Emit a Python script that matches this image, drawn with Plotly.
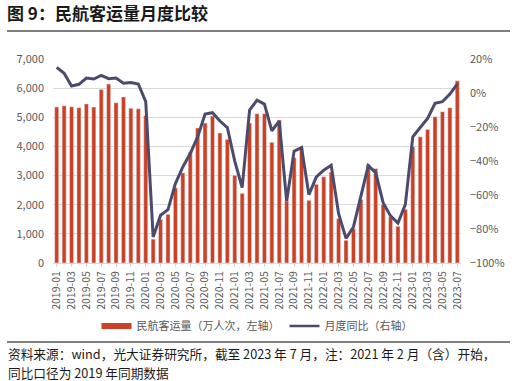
import plotly.graph_objects as go

months = [f"{y}-{m:02d}" for y in range(2019, 2024) for m in range(1, 13)][:55]

passengers = [5350, 5395, 5360, 5330, 5460, 5350, 5950, 6140, 5500, 5700, 5310, 5290,
              5060, 820, 1500, 1670, 2580, 3090, 3810, 4630, 4800, 5040, 4460, 4240,
              3010, 2390, 4800, 5120, 5120, 4140, 4910, 2120, 3610, 3960, 2150, 2700,
              2960, 3120, 1520, 780, 1180, 2180, 3390, 3240, 2000, 1580, 1260, 1840,
              3990, 4330, 4580, 5020, 5190, 5330, 6250]

yoy = [15.1, 11.6, 4.1, 5.1, 8.8, 8.2, 10.4, 8.4, 8.8, 5.7, 6.2, 5.3,
       -5.1, -84.7, -71.9, -68.6, -53.3, -43.5, -35.6, -25.8, -12.4, -11.6, -16.5, -20.3,
       -40.1, -55.6, -10.1, -4.2, -6.5, -22.2, -16.5, -63.7, -34.2, -32.1, -59.8, -49.4,
       -45.4, -42.5, -71.0, -85.5, -78.8, -61.1, -42.7, -46.8, -64.5, -72.3, -76.5, -65.5,
       -25.8, -20.3, -15.0, -6.1, -5.1, -0.6, 5.3]

tick_labels = months[::2]

bar_name = "民航客运量（万人次，左轴）"
line_name = "月度同比（右轴）"
title_text = "图 9：民航客运量月度比较"
note1 = "资料来源：wind，光大证券研究所，截至 2023 年 7 月，注：2021 年 2 月（含）开始，"
note2 = "同比口径为 2019 年同期数据"

FONT = "Noto Sans CJK SC, Noto Sans, sans-serif"
GRAY = "#595959"
BAR_C = "#cc4125"
LINE_C = "#4b4b6e"

fig = go.Figure()
fig.add_trace(go.Bar(x=months, y=passengers, name=bar_name, marker_color=BAR_C,
                     width=0.55, yaxis="y", showlegend=False))
fig.add_trace(go.Scatter(x=months, y=yoy, name=line_name, mode="lines",
                         line=dict(color=LINE_C, width=3), yaxis="y2", showlegend=False))
# legend entries
fig.add_trace(go.Scatter(x=[None], y=[None], name=bar_name, mode="lines",
                         line=dict(color=BAR_C, width=6), yaxis="y"))
fig.add_trace(go.Scatter(x=[None], y=[None], name=line_name, mode="lines",
                         line=dict(color=LINE_C, width=2.5), yaxis="y2"))

W, H = 516, 381
L, R, T, B = 53, 55, 59, 118
ph = H - T - B
pw = W - L - R

def py(px):
    return (H - B - px) / ph

def pxx(px):
    return (px - L) / pw

fig.update_layout(
    width=W, height=H,
    margin=dict(l=L, r=R, t=T, b=B, pad=0),
    paper_bgcolor="white", plot_bgcolor="white",
    font=dict(family=FONT, color=GRAY, size=11),
    title=dict(text=f"<b>{title_text}</b>", x=7 / W, xanchor="left", y=1 - 14 / H,
               yanchor="middle", font=dict(family=FONT, size=17, color="#1a1a1a")),
    xaxis=dict(type="category", categoryorder="array", categoryarray=months,
               tickmode="array", tickvals=tick_labels, ticktext=tick_labels,
               tickangle=-90, tickfont=dict(size=10.5, color=GRAY),
               showline=True, linecolor="#d9d9d9", ticks="outside", ticklen=3,
               tickcolor="#d9d9d9", showgrid=False, range=[-0.5, 54.5]),
    yaxis=dict(range=[0, 7000], dtick=1000, tickformat=",d", showgrid=True,
               gridcolor="#d9d9d9", gridwidth=1, zeroline=False,
               tickfont=dict(size=11, color=GRAY), ticks="", ticklabelstandoff=8),
    yaxis2=dict(range=[-100, 20], dtick=20, overlaying="y", side="right",
                showgrid=False, zeroline=False, ticksuffix="%",
                tickfont=dict(size=11, color=GRAY), ticklabelstandoff=8),
    showlegend=True,
    legend=dict(orientation="h", x=0.5, xanchor="center", y=py(326), yanchor="middle",
                font=dict(size=11, color=GRAY), bgcolor="rgba(0,0,0,0)",
                tracegroupgap=0),
    shapes=[
        dict(type="line", xref="paper", yref="paper", x0=pxx(7), x1=pxx(510),
             y0=py(31), y1=py(31), line=dict(color="#555555", width=1.5)),
        dict(type="line", xref="paper", yref="paper", x0=pxx(7), x1=pxx(510),
             y0=py(342), y1=py(342), line=dict(color="#555555", width=1.5)),
    ],
    annotations=[
        dict(text=note1, xref="paper", yref="paper", x=pxx(6), y=py(353),
             xanchor="left", yanchor="middle", showarrow=False,
             font=dict(family=FONT, size=12.7, color="#1a1a1a")),
        dict(text=note2, xref="paper", yref="paper", x=pxx(6), y=py(372),
             xanchor="left", yanchor="middle", showarrow=False,
             font=dict(family=FONT, size=12.7, color="#1a1a1a")),
    ],
)

fig.write_html("out.html", config={"displayModeBar": False},
               post_script="document.body.style.margin='0';document.body.style.padding='0';")
